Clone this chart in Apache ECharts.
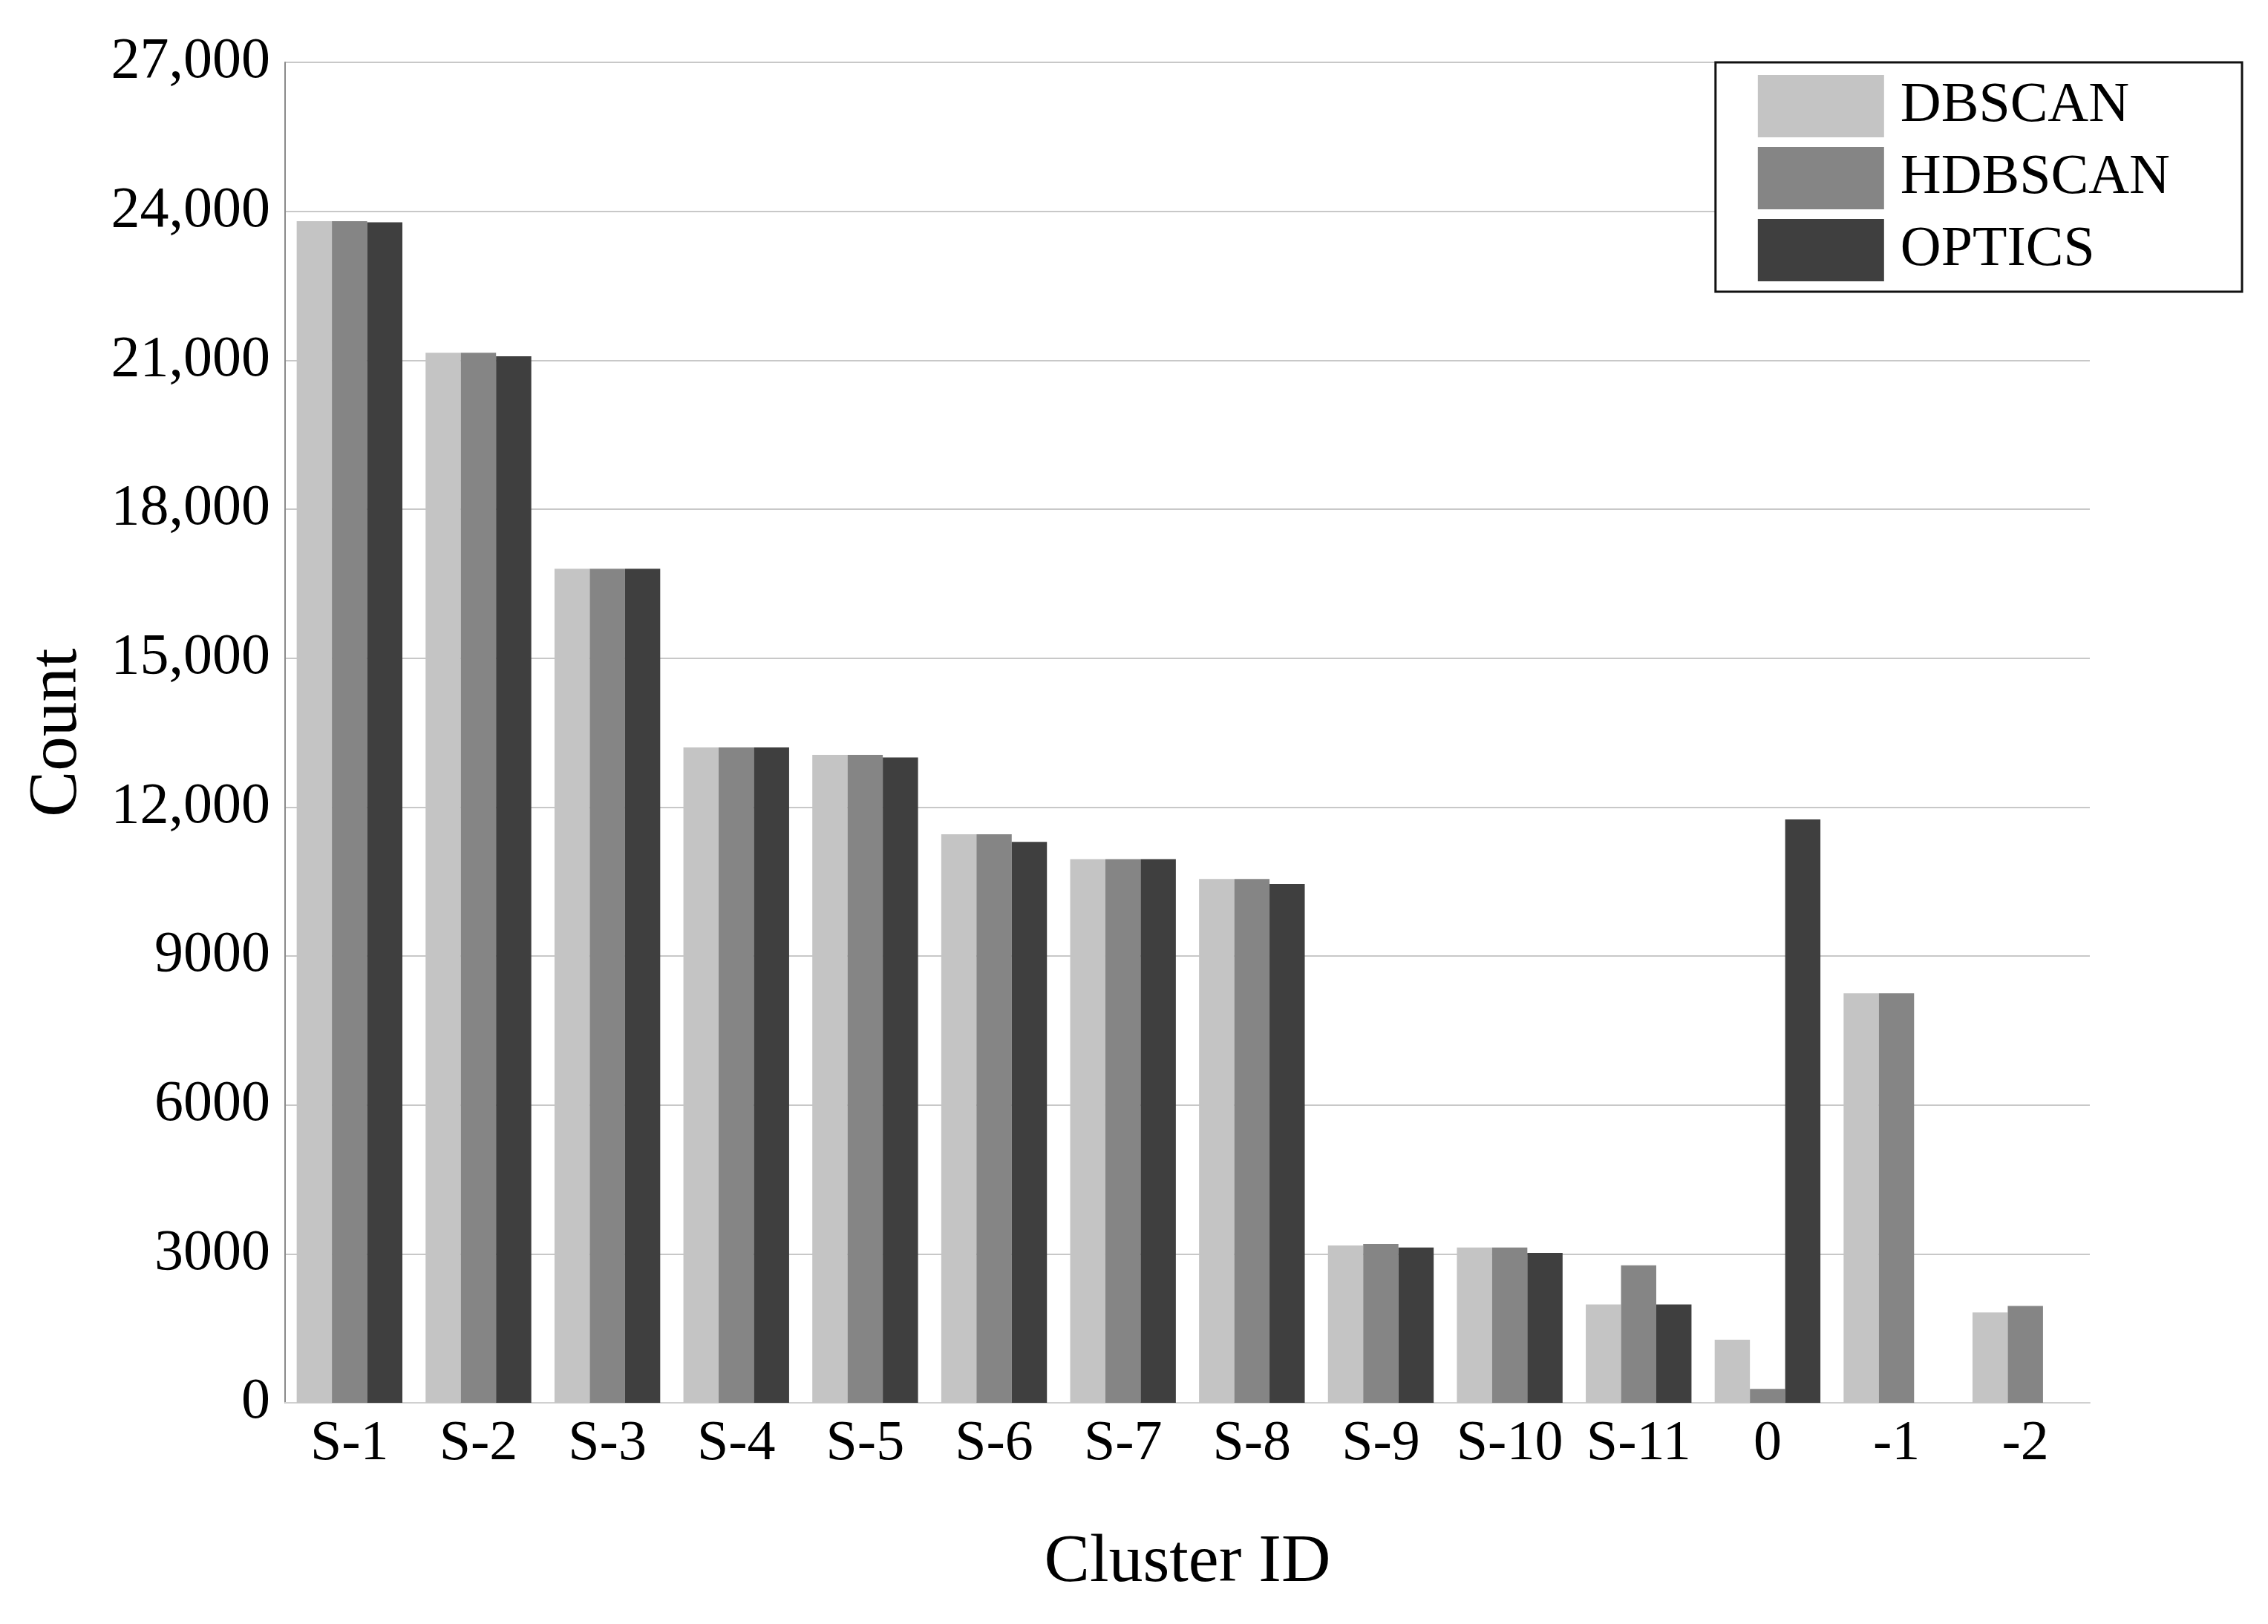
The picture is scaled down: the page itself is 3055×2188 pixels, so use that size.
<!DOCTYPE html>
<html>
<head>
<meta charset="utf-8">
<script src="https://cdn.jsdelivr.net/npm/echarts@6/dist/echarts.min.js"></script>
<style>
html,body{margin:0;padding:0;background:#ffffff;}
#chart{width:3055px;height:2188px;}
</style>
</head>
<body>
<div id="chart"></div>
<script>
const categories = ['S-1','S-2','S-3','S-4','S-5','S-6','S-7','S-8','S-9','S-10','S-11','0','-1','-2'];
const dbscan  = [23800, 21150, 16800, 13200, 13050, 11450, 10950, 10550, 3170, 3130, 1980, 1270, 8250, 1820];
const hdbscan = [23800, 21150, 16800, 13200, 13050, 11450, 10950, 10550, 3200, 3130, 2770,  280, 8250, 1950];
const optics  = [23780, 21080, 16800, 13200, 13000, 11300, 10950, 10450, 3130, 3020, 1980, 11750, null, null];
const seriesNames = ['DBSCAN','HDBSCAN','OPTICS'];
const yTicks = [0, 3000, 6000, 9000, 12000, 15000, 18000, 21000, 24000, 27000];

const FONT = '"Liberation Serif", "Times New Roman", serif';
const colors = ['#c4c4c4', '#858585', '#3f3f3f'];

const chart = echarts.init(document.getElementById('chart'), null, {renderer:'canvas'});
const mk = (name, data, color) => ({
  name: name, type: 'bar', data: data, barGap: '0%', barCategoryGap: '18%',
  itemStyle: {color: color}
});
chart.setOption({
  backgroundColor: '#ffffff',
  animation: false,
  color: colors,
  grid: {left: 384, right: 240, top: 84, bottom: 298, containLabel: false},
  legend: {
    data: seriesNames,
    orient: 'vertical',
    right: 35, top: 84,
    itemWidth: 170, itemHeight: 84, itemGap: 13,
    padding: [17, 97, 14, 57],
    borderColor: '#111', borderWidth: 3,
    backgroundColor: '#fff',
    icon: 'rect',
    textStyle: {fontFamily: FONT, fontSize: 76, color: '#000', padding: [0, 0, 0, 17]}
  },
  xAxis: {
    type: 'category', data: categories,
    name: 'Cluster ID', nameLocation: 'middle', nameGap: 170,
    nameTextStyle: {fontFamily: FONT, fontSize: 92, color: '#000'},
    axisLine: {show: true, lineStyle: {color: '#d0d0d0', width: 2}},
    axisTick: {show: false},
    axisLabel: {fontFamily: FONT, fontSize: 76, color: '#000', margin: 18, interval: 0}
  },
  yAxis: {
    type: 'value', min: 0, max: 27000, interval: 3000,
    name: 'Count', nameLocation: 'middle', nameGap: 260, nameRotate: 90,
    nameTextStyle: {fontFamily: FONT, fontSize: 93, color: '#000'},
    axisLine: {show: true, lineStyle: {color: '#8a8a8a', width: 2}},
    axisTick: {show: false},
    splitLine: {show: true, lineStyle: {color: '#c8c8c8', width: 2}},
    axisLabel: {
      fontFamily: FONT, fontSize: 78, color: '#000', margin: 20,
      formatter: function (v) {
        if (yTicks.indexOf(v) < 0) return '';
        return v >= 10000 ? v.toLocaleString('en-US') : String(v);
      }
    }
  },
  series: [mk(seriesNames[0], dbscan, colors[0]), mk(seriesNames[1], hdbscan, colors[1]), mk(seriesNames[2], optics, colors[2])]
});
</script>
</body>
</html>
